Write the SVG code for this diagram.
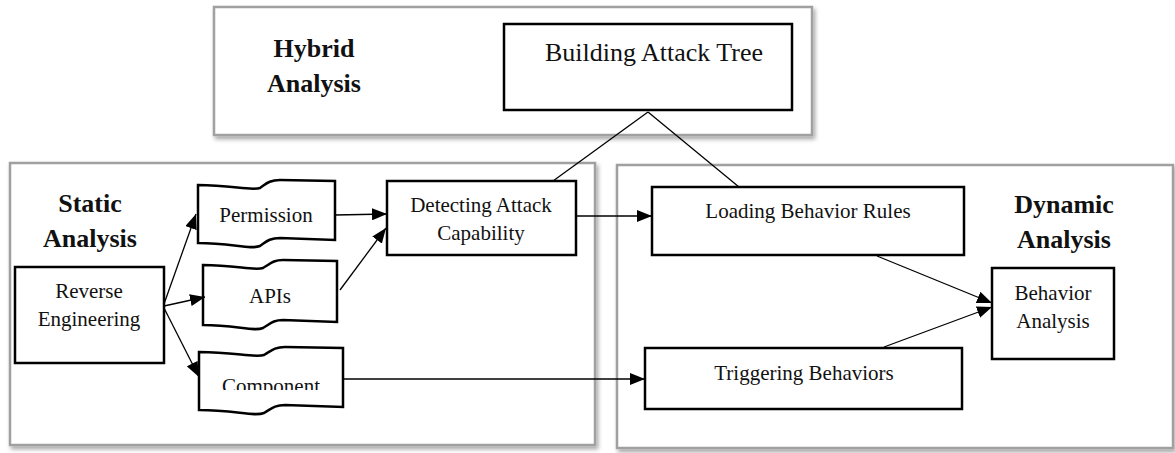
<svg xmlns="http://www.w3.org/2000/svg" width="1175" height="453" viewBox="0 0 1175 453">
<style>
.panel{fill:#fff;stroke:#a0a0a0;stroke-width:2.5;filter:url(#sh)}
.node{fill:#fff;stroke:#000;stroke-width:2.5}
.t{font-family:"Liberation Serif","Times New Roman",serif;font-size:21px;fill:#111;text-anchor:middle}
.big{font-size:26px}
.b{font-family:"Liberation Serif","Times New Roman",serif;font-size:26px;font-weight:bold;fill:#111;text-anchor:middle}
.c{fill:none;stroke:#000;stroke-width:1.3}
</style>
<defs>
<filter id="sh" x="-5%" y="-5%" width="110%" height="115%">
<feDropShadow dx="2" dy="3" stdDeviation="2" flood-color="#000" flood-opacity="0.35"/>
</filter>
<marker id="ah" markerUnits="userSpaceOnUse" markerWidth="16" markerHeight="12" refX="15" refY="6" orient="auto">
<path d="M0,0 L15,6 L0,12 Z" fill="#000"/>
</marker>
<clipPath id="clipComp"><rect x="200" y="355" width="142" height="35"/></clipPath>
</defs>
<rect width="1175" height="453" fill="#fff"/>
<g id="panel-hybrid"><rect class="panel" x="214" y="7" width="598" height="128"/>
<text class="b" x="314" y="57">Hybrid</text><text class="b" x="314" y="92">Analysis</text></g>
<g id="panel-static"><rect class="panel" x="10" y="163" width="585" height="282"/>
<text class="b" x="90" y="212">Static</text><text class="b" x="90" y="247">Analysis</text></g>
<g id="panel-dynamic"><rect class="panel" x="617" y="165" width="556" height="283"/>
<text class="b" x="1064" y="213">Dynamic</text><text class="b" x="1064" y="248">Analysis</text></g>
<g id="building"><rect class="node" x="504" y="24" width="288" height="86"/>
<text class="t big" x="654" y="61">Building Attack Tree</text></g>
<g id="reverse"><rect class="node" x="15" y="267" width="149" height="96"/>
<text class="t" x="89" y="298">Reverse</text><text class="t" x="89" y="326">Engineering</text></g>
<g id="permission"><path class="node" d="M198,185 C232,185 250,191 260,188 C266,184 269,180 280,180 L335,181 L335,240 L280,238 C269,238 266,242 260,246 C250,250 232,243 198,243 Z"/>
<text class="t" x="266" y="222">Permission</text></g>
<g id="apis"><path class="node" d="M203,265 C236,265 254,271 263,268 C270,264 273,260 283,260 L337,261 L337,322 L283,320 C273,320 270,324 263,328 C254,332 236,325 203,325 Z"/>
<text class="t" x="270" y="303">APIs</text></g>
<g id="component"><path class="node" d="M199,352 C235,352 254,358 264,355 C271,351 274,347 285,347 L343,348 L343,407 L285,405 C274,405 271,409 264,413 C254,417 235,410 199,410 Z"/>
<text class="t" x="271" y="393" clip-path="url(#clipComp)">Component</text></g>
<g id="detecting"><rect class="node" x="387" y="181" width="189" height="74"/>
<text class="t" x="481" y="212">Detecting Attack</text><text class="t" x="481" y="240">Capability</text></g>
<g id="loading"><rect class="node" x="652" y="187" width="312" height="68"/>
<text class="t" x="808" y="218">Loading Behavior Rules</text></g>
<g id="triggering"><rect class="node" x="645" y="348" width="317" height="61"/>
<text class="t" x="804" y="380">Triggering Behaviors</text></g>
<g id="behavior"><rect class="node" x="992" y="268" width="122" height="91"/>
<text class="t" x="1053" y="300">Behavior</text><text class="t" x="1053" y="328">Analysis</text></g>
<g id="connectors">
<line class="c" x1="648" y1="112" x2="553" y2="181"/>
<line class="c" x1="648" y1="112" x2="739" y2="187"/>
<line class="c" x1="164" y1="304" x2="196" y2="214" marker-end="url(#ah)"/>
<line class="c" x1="164" y1="306" x2="205" y2="297" marker-end="url(#ah)"/>
<line class="c" x1="164" y1="308" x2="199" y2="377" marker-end="url(#ah)"/>
<line class="c" x1="335" y1="215" x2="387" y2="214" marker-end="url(#ah)"/>
<line class="c" x1="340" y1="290" x2="386" y2="228" marker-end="url(#ah)"/>
<line class="c" x1="576" y1="216" x2="652" y2="216" marker-end="url(#ah)"/>
<line class="c" x1="343" y1="379" x2="645" y2="379" marker-end="url(#ah)"/>
<line class="c" x1="877" y1="256" x2="992" y2="303" marker-end="url(#ah)"/>
<line class="c" x1="884" y1="347" x2="992" y2="307" marker-end="url(#ah)"/>
</g>
</svg>
